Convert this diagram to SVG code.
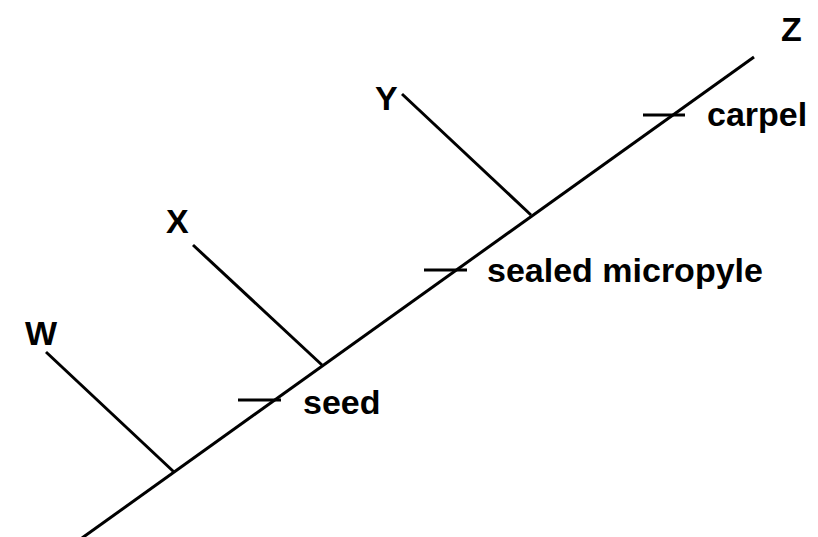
<svg xmlns="http://www.w3.org/2000/svg" width="818" height="537" viewBox="0 0 818 537">
<style>
line{stroke:#000;stroke-width:3;stroke-linecap:butt}
text{font-family:"Liberation Sans",Arial,sans-serif;font-weight:bold;font-size:34px;fill:#000}
</style>
<rect width="818" height="537" fill="#fff"/>
<g id="connectors">
<line x1="82" y1="538" x2="754" y2="57"/>
<line x1="46" y1="352" x2="174" y2="472"/>
<line x1="193" y1="245" x2="322" y2="365"/>
<line x1="402" y1="94" x2="531" y2="215"/>
<line x1="238" y1="400" x2="281" y2="400"/>
<line x1="424" y1="270" x2="467" y2="270"/>
<line x1="643" y1="115" x2="685" y2="115"/>
</g>
<g id="W"><text x="25" y="345">W</text></g>
<g id="X"><text x="166" y="233">X</text></g>
<g id="Y"><text x="375" y="110">Y</text></g>
<g id="Z"><text x="781" y="41">Z</text></g>
<g id="seed"><text x="303" y="414">seed</text></g>
<g id="sealed-micropyle"><text x="487" y="282">sealed micropyle</text></g>
<g id="carpel"><text x="707" y="126">carpel</text></g>
</svg>
